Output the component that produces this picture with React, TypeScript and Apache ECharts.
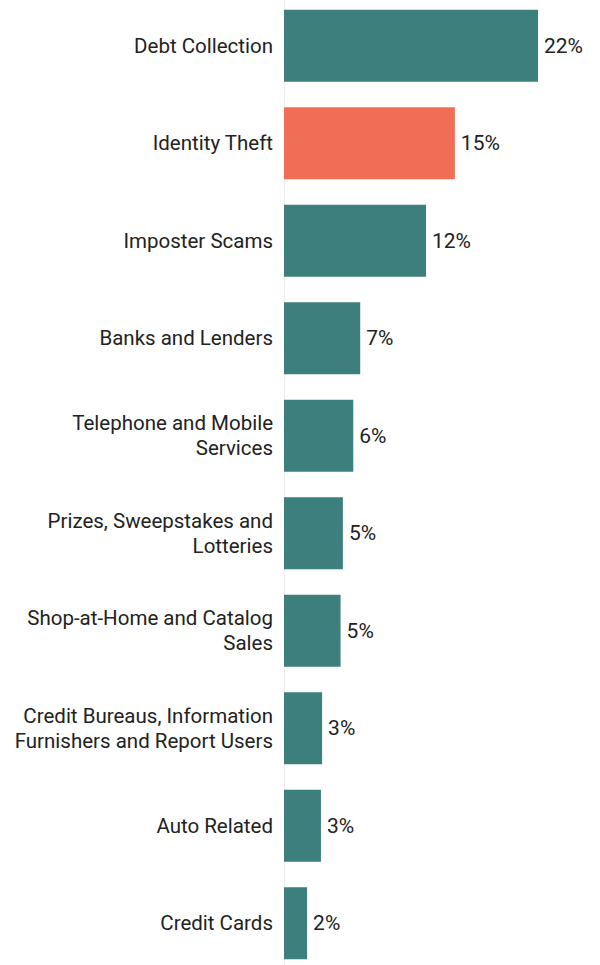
import React, { useEffect, useRef } from "react";
import * as echarts from "echarts";

const categories = [
  "Debt Collection",
  "Identity Theft",
  "Imposter Scams",
  "Banks and Lenders",
  "Telephone and Mobile\nServices",
  "Prizes, Sweepstakes and\nLotteries",
  "Shop-at-Home and Catalog\nSales",
  "Credit Bureaus, Information\nFurnishers and Report Users",
  "Auto Related",
  "Credit Cards",
];
const values = [22.0, 14.8, 12.3, 6.6, 6.0, 5.1, 4.9, 3.3, 3.2, 2.0];
const highlightIndex = 1;
const TEAL = "#3d7f7d";
const CORAL = "#f06e55";
const FONT = "Roboto, sans-serif";

export default function App() {
  const ref = useRef<HTMLDivElement>(null);
  useEffect(() => {
    if (!ref.current) return;
    const chart = echarts.init(ref.current, undefined, { renderer: "svg" });
    chart.setOption({
      animation: false,
      grid: { left: 284, right: 0, top: 0, bottom: 0, containLabel: false },
      xAxis: {
        type: "value",
        min: 0,
        max: 27.37,
        show: false,
      },
      yAxis: {
        type: "category",
        data: categories,
        inverse: true,
        axisLine: { show: true, lineStyle: { color: "#ececec", width: 1 } },
        axisTick: { show: false },
        axisLabel: {
          margin: 11,
          fontSize: 20.5,
          fontWeight: 400,
          lineHeight: 25,
          color: "#222222",
          fontFamily: FONT,
          align: "right",
        },
      },
      series: [
        {
          type: "bar",
          barWidth: 72,
          data: values.map((v, i) => ({
            value: v,
            itemStyle: { color: i === highlightIndex ? CORAL : TEAL },
          })),
          label: {
            show: true,
            position: "right",
            distance: 6,
            fontSize: 21,
            color: "#222222",
            fontFamily: FONT,
            formatter: (p: any) => Math.round(p.value) + "%",
          },
        },
      ],
    });
    return () => chart.dispose();
  }, []);
  return (
    <div
      ref={ref}
      style={{ width: 600, height: 975, position: "absolute", left: 0, top: -3 }}
    />
  );
}
